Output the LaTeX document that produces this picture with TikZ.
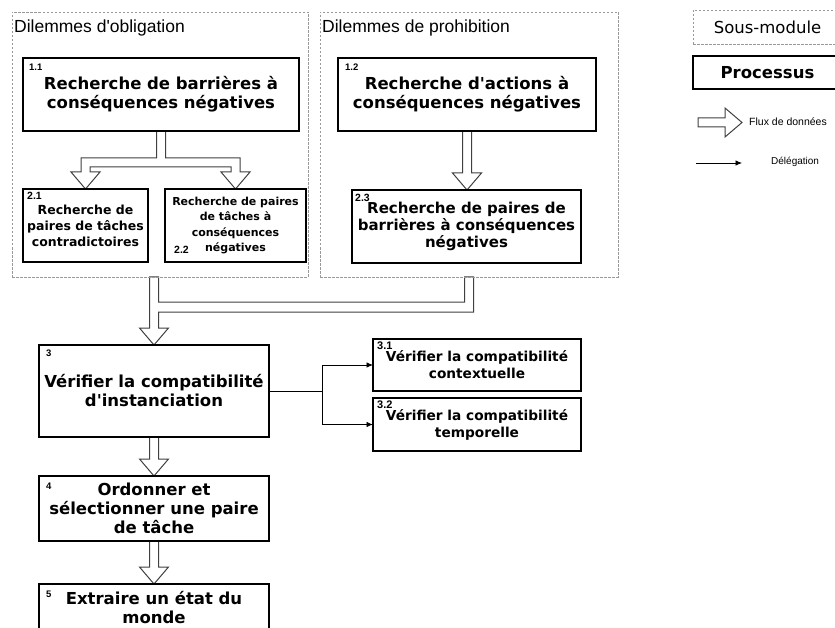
\documentclass[tikz,border=0pt]{standalone}
\usepackage{fontspec}
\setmainfont{Liberation Sans}
\newfontfamily\boxfont{DejaVu Sans}
\usetikzlibrary{positioning,calc,arrows.meta,backgrounds}
\tikzset{
  sub module/.style 2 args={
    draw=gray!80,
    dash pattern=on 2.5pt off 1.5pt,
    line width=0.8pt,
    minimum width=#1,
    minimum height=#2,
    inner sep=0pt,
    outer sep=0pt,
  },
  process/.style 2 args={
    draw,
    line width=1.5pt,
    fill=white,
    align=center,
    inner sep=0pt,
    outer sep=0pt,
    minimum width=#1,
    minimum height=#2,
    font=\boxfont\bfseries\fontsize{16.5}{19}\selectfont,
  },
  num label/.style={
    anchor=north west,
    inner sep=0pt,
    font=\bfseries\fontsize{9.5}{9.5}\selectfont,
  },
  dilemma title/.style={
    anchor=north west,
    inner sep=0pt,
    font=\fontsize{17.5}{20}\selectfont,
  },
  legend text/.style={
    anchor=west,
    inner sep=0pt,
    font=\fontsize{10.5}{12}\selectfont,
  },
  flux/.style={draw=black!75, fill=white, line width=1pt, line join=miter},
  deleg/.style={draw, line width=0.8pt, -{Latex[length=6.5pt,width=5.5pt]}},
}
\newcommand{\fluxdown}[2]{%
  \draw[flux] let \p1=(#1), \p2=(#2) in
    (\x1-4.5pt,\y1) -- (\x1-4.5pt,\y2+17pt) -- (\x1-14.5pt,\y2+17pt) -- (\x1,\y2)
    -- (\x1+14.5pt,\y2+17pt) -- (\x1+4.5pt,\y2+17pt) -- (\x1+4.5pt,\y1) -- cycle;}

\begin{document}
\begin{tikzpicture}[x=1pt, y=-1pt]
  \clip (0,0) rectangle (835,628);

  % sous-modules
  \node [sub module={296}{265}] (obl) at (160,144.5) {};
  \node [sub module={298}{265}] (proh) at (469,144.5) {};
  \node [dilemma title] (oblt) at ([shift={(2,7.5)}]obl.north west) {Dilemmes d\textquotesingle obligation};
  \node [dilemma title] (proht) at ([shift={(2,7.5)}]proh.north west) {Dilemmes de prohibition};

  % processus
  \node [process={276}{73}] (b11) at (161,94.5) {Recherche de barrières à\\conséquences négatives};
  \node [process={258}{73}] (b12) at (467,94.5) {Recherche d'actions à\\conséquences négatives};
  \node [process={125}{73}, font=\boxfont\bfseries\fontsize{12.5}{16}\selectfont] (b21) at (85.5,225.5)
    {Recherche de\\paires de tâches\\contradictoires};
  \node [process={141}{73}, font=\boxfont\bfseries\fontsize{11}{15.3}\selectfont] (b22) at (235.5,225.5)
    {Recherche de paires\\de tâches à\\conséquences\\négatives};
  \node [process={229}{73}, font=\boxfont\bfseries\fontsize{15}{17}\selectfont] (b23) at (466.5,226.5)
    {Recherche de paires de\\barrières à conséquences\\négatives};
  \node [process={230}{92}] (b3) at (154,391) {Vérifier la compatibilité\\d'instanciation};
  \node [process={208}{52}, font=\boxfont\bfseries\fontsize{13.7}{17}\selectfont] (b31) at (477,365)
    {Vérifier la compatibilité\\contextuelle};
  \node [process={208}{53}, font=\boxfont\bfseries\fontsize{13.7}{17}\selectfont, below=7pt of b31] (b32)
    {Vérifier la compatibilité\\temporelle};
  \node [process={230}{65}] (b4) at (154,508.5) {Ordonner et\\sélectionner une paire\\de tâche};
  \node [process={230}{47}] (b5) at (154,607.5) {Extraire un état du\\monde};

  % numeros
  \node [num label] at ([shift={(6,5.5)}]b11.north west) {1.1};
  \node [num label] at ([shift={(7,5.5)}]b12.north west) {1.2};
  \node [num label, font=\bfseries\fontsize{10.5}{10.5}\selectfont] at ([shift={(4,3)}]b21.north west) {2.1};
  \node [num label, anchor=south west, font=\bfseries\fontsize{10.5}{10.5}\selectfont] at ([shift={(9,-8)}]b22.south west) {2.2};
  \node [num label, font=\bfseries\fontsize{10.5}{10.5}\selectfont] at ([shift={(3,4)}]b23.north west) {2.3};
  \node [num label] at ([shift={(7,5)}]b3.north west) {3};
  \node [num label, font=\bfseries\fontsize{11}{11}\selectfont] at ([shift={(4,3)}]b31.north west) {3.1};
  \node [num label, font=\bfseries\fontsize{11}{11}\selectfont] at ([shift={(4,3)}]b32.north west) {3.2};
  \node [num label] at ([shift={(7,7)}]b4.north west) {4};
  \node [num label] at ([shift={(7,7)}]b5.north west) {5};

  % legende
  \node [sub module={149}{34}, font=\boxfont\fontsize{16.5}{19}\selectfont] (sm) at (767.5,27) {Sous-module};
  \node [process={149}{33}, below=12pt of sm] (pr) {Processus};
  \coordinate (fluxa) at (698,122.5);
  \coordinate (fluxb) at (742,122.5);
  \node [legend text] (fluxt) at (749,122) {Flux de données};
  \coordinate (dela) at (696,163);
  \coordinate (delb) at (742,163);
  \node [legend text, font=\fontsize{10}{12}\selectfont] (delt) at (771,162) {Délégation};
  \draw[flux] let \p1=(fluxa), \p2=(fluxb) in
    (\x1,\y1+4.5pt) -- (\x2-17pt,\y1+4.5pt) -- (\x2-17pt,\y1+14.5pt) -- (\p2)
    -- (\x2-17pt,\y1-14.5pt) -- (\x2-17pt,\y1-4.5pt) -- (\x1,\y1-4.5pt) -- cycle;
  \draw[deleg] (dela) -- (delb);

  % flux de donnees
  \begin{pgfonlayer}{background}
    \fluxdown{b12.south}{b23.north}
    \fluxdown{b3.south}{b4.north}
    \fluxdown{b4.south}{b5.north}
    \draw[flux] let \p1=(b11.south), \p2=(b21.north), \p3=(b22.north) in
      (\x1-4.5pt,\y1) -- (\x1-4.5pt,\y1-27pt) -- (\x2-4.5pt,\y1-27pt) -- (\x2-4.5pt,\y2+17pt)
      -- (\x2-14.5pt,\y2+17pt) -- (\p2) -- (\x2+14.5pt,\y2+17pt) -- (\x2+4.5pt,\y2+17pt)
      -- (\x2+4.5pt,\y1-36pt) -- (\x3-4.5pt,\y1-36pt) -- (\x3-4.5pt,\y3+17pt)
      -- (\x3-14.5pt,\y3+17pt) -- (\p3) -- (\x3+14.5pt,\y3+17pt) -- (\x3+4.5pt,\y3+17pt)
      -- (\x3+4.5pt,\y1-27pt) -- (\x1+4.5pt,\y1-27pt) -- (\x1+4.5pt,\y1) -- cycle;
    \draw[flux] let \p1=(b3.north), \p2=(proh.south), \p3=(obl.south) in
      (\x1-4.5pt,\y3) -- (\x1-4.5pt,\y1+17pt) -- (\x1-14.5pt,\y1+17pt) -- (\p1)
      -- (\x1+14.5pt,\y1+17pt) -- (\x1+4.5pt,\y1+17pt) -- (\x1+4.5pt,\y3-35pt)
      -- (\x2+4.5pt,\y3-35pt) -- (\x2+4.5pt,\y2) -- (\x2-4.5pt,\y2) -- (\x2-4.5pt,\y3-25pt)
      -- (\x1+4.5pt,\y3-25pt) -- (\x1+4.5pt,\y3) -- cycle;
  \end{pgfonlayer}

  % delegation
  \draw[deleg] (b3.east) -- ++(53,0) |- (b31.west);
  \draw[deleg] (b3.east) -- ++(53,0) |- (b32.west);
\end{tikzpicture}
\end{document}
